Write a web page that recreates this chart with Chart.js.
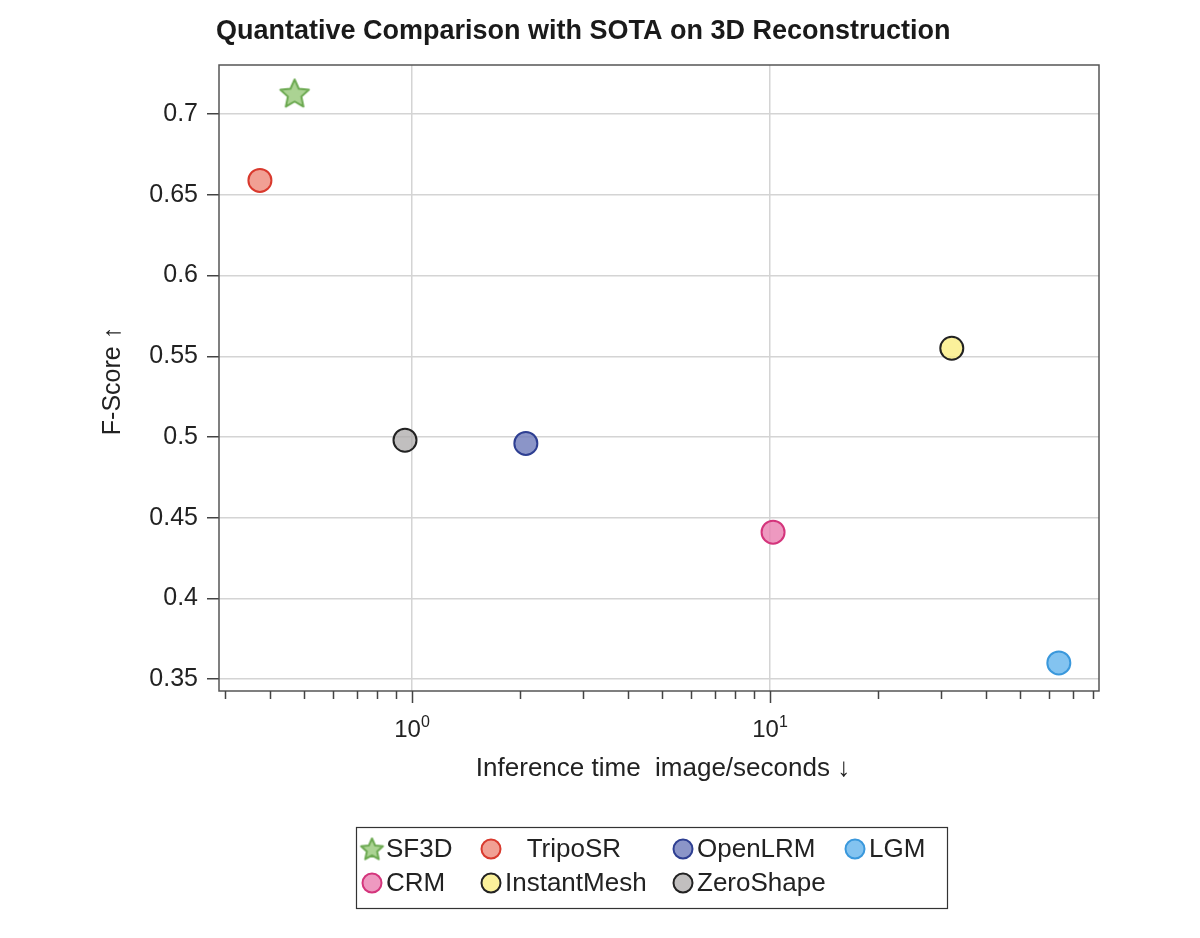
<!DOCTYPE html>
<html>
<head>
<meta charset="utf-8">
<script src="https://cdn.jsdelivr.net/npm/chart.js@4.4.1/dist/chart.umd.min.js"></script>
<style>
  html, body { margin: 0; background: #fff; }
  #wrap { width: 1200px; height: 938px; }
</style>
</head>
<body>
<div id="wrap"><canvas id="chart" aria-label="scatter chart" role="img"></canvas></div>
<script>
const methods = ['SF3D', 'TripoSR', 'OpenLRM', 'LGM', 'CRM', 'InstantMesh', 'ZeroShape'];
const inferenceTime = [0.47, 0.376, 2.08, 64.1, 10.2, 32.2, 0.956];
const fScore = [0.713, 0.659, 0.496, 0.360, 0.441, 0.555, 0.498];
const fillColors = [
  'rgba(150, 200, 120, 0.8)',
  'rgba(236, 128, 112, 0.75)',
  'rgba(110, 122, 186, 0.8)',
  'rgba(100, 180, 236, 0.8)',
  'rgba(234, 128, 176, 0.8)',
  'rgba(250, 238, 130, 0.8)',
  'rgba(172, 170, 170, 0.75)',
];
const borderColors = ['#6aa84f', '#d93a2e', '#2e3f92', '#3a98dc', '#d4357c', '#222222', '#222222'];
const yTicks = [0.35, 0.4, 0.45, 0.5, 0.55, 0.6, 0.65, 0.7];
const xMajorTicks = [1, 10];
const xMajorExp = ['0', '1'];
const xMinorTicks = [0.3, 0.4, 0.5, 0.6, 0.7, 0.8, 0.9, 2, 3, 4, 5, 6, 7, 8, 9, 20, 30, 40, 50, 60, 70, 80];

const FONT = '"Liberation Sans", Arial, Helvetica, sans-serif';

const makeStar = (r, fill, stroke) => {
  const c = document.createElement('canvas');
  const size = Math.ceil(r * 2 + 6);
  c.width = size;
  c.height = size;
  const ctx = c.getContext('2d');
  const cx = size / 2, cy = size / 2 + r * 0.08;
  ctx.beginPath();
  for (let i = 0; i < 10; i++) {
    const rad = i % 2 === 0 ? r : r * 0.47;
    const a = -Math.PI / 2 + i * Math.PI / 5;
    const px = cx + rad * Math.cos(a), py = cy + rad * Math.sin(a);
    if (i === 0) ctx.moveTo(px, py); else ctx.lineTo(px, py);
  }
  ctx.closePath();
  ctx.fillStyle = fill;
  ctx.fill();
  ctx.lineWidth = 2;
  ctx.lineJoin = 'round';
  ctx.strokeStyle = stroke;
  ctx.stroke();
  return c;
};

const starBig = makeStar(15, fillColors[0], borderColors[0]);
const starSmall = makeStar(11.5, fillColors[0], borderColors[0]);

const datasets = methods.map((m, i) => ({
  label: m,
  data: [{ x: inferenceTime[i], y: fScore[i] }],
  backgroundColor: fillColors[i],
  borderColor: borderColors[i],
  borderWidth: 2,
  pointRadius: 11.5,
  pointHoverRadius: 11.5,
  pointStyle: i === 0 ? starBig : 'circle',
}));

// legend layout: 4 columns, 2 rows
const legendCols = [372, 491, 683, 855];
const legendRows = [849, 883];
const legendText = ['SF3D', '   TripoSR', 'OpenLRM', 'LGM', 'CRM', 'InstantMesh', 'ZeroShape'];

const decorPlugin = {
  id: 'decor',
  beforeDatasetsDraw(chart) {
    const { ctx, chartArea: a, scales: { x } } = chart;
    ctx.save();
    ctx.strokeStyle = '#555';
    ctx.lineWidth = 1.5;
    ctx.strokeRect(a.left, a.top, a.right - a.left, a.bottom - a.top);

    // x tick marks
    ctx.strokeStyle = '#444';
    ctx.lineWidth = 1.5;
    ctx.beginPath();
    xMinorTicks.forEach(v => {
      const px = Math.round(x.getPixelForValue(v)) + 0.5;
      ctx.moveTo(px, a.bottom);
      ctx.lineTo(px, a.bottom + 8);
    });
    xMajorTicks.forEach(v => {
      const px = Math.round(x.getPixelForValue(v)) + 0.5;
      ctx.moveTo(px, a.bottom);
      ctx.lineTo(px, a.bottom + 12);
    });
    ctx.stroke();

    // x tick labels 10^n
    ctx.fillStyle = '#222';
    ctx.textBaseline = 'alphabetic';
    xMajorTicks.forEach((v, i) => {
      const px = x.getPixelForValue(v);
      ctx.font = '24px ' + FONT;
      const wb = ctx.measureText('10').width;
      ctx.font = '16px ' + FONT;
      const we = ctx.measureText(xMajorExp[i]).width;
      const start = px - (wb + we) / 2;
      ctx.font = '24px ' + FONT;
      ctx.textAlign = 'left';
      ctx.fillText('10', start, 737);
      ctx.font = '16px ' + FONT;
      ctx.fillText(xMajorExp[i], start + wb, 727);
    });
    ctx.restore();
  },
  afterDraw(chart) {
    const { ctx, chartArea: a } = chart;
    ctx.save();
    // title
    ctx.fillStyle = '#1a1a1a';
    ctx.font = 'bold 27px ' + FONT;
    ctx.textAlign = 'left';
    ctx.textBaseline = 'middle';
    ctx.fillText('Quantative Comparison with SOTA on 3D Reconstruction', 216, 32);

    // axis titles
    ctx.font = '26px ' + FONT;
    ctx.fillStyle = '#222';
    ctx.textAlign = 'center';
    ctx.fillText('Inference time  image/seconds \u2193', (a.left + a.right) / 2 + 4, 769);
    ctx.save();
    ctx.font = '25px ' + FONT;
    ctx.translate(113, 381);
    ctx.rotate(-Math.PI / 2);
    ctx.fillText('F-Score \u2191', 0, 0);
    ctx.restore();

    // legend box
    ctx.strokeStyle = '#333';
    ctx.lineWidth = 1.2;
    ctx.strokeRect(356.5, 827.5, 591, 81);
    ctx.font = '26px ' + FONT;
    ctx.textAlign = 'left';
    ctx.textBaseline = 'middle';
    methods.forEach((m, i) => {
      const cx = legendCols[i % 4];
      const cy = legendRows[Math.floor(i / 4)];
      if (i === 0) {
        ctx.drawImage(starSmall, cx - starSmall.width / 2, cy - starSmall.height / 2);
      } else {
        ctx.beginPath();
        ctx.arc(cx, cy, 9.5, 0, Math.PI * 2);
        ctx.fillStyle = fillColors[i];
        ctx.fill();
        ctx.lineWidth = 2;
        ctx.strokeStyle = borderColors[i];
        ctx.stroke();
      }
      ctx.fillStyle = '#222';
      ctx.fillText(legendText[i], cx + 14, cy + 1);
    });
    ctx.restore();
  },
};

new Chart(document.getElementById('chart'), {
  type: 'scatter',
  data: { datasets },
  options: {
    responsive: true,
    maintainAspectRatio: false,
    animation: false,
    layout: { padding: { top: 65, right: 101, bottom: 147, left: 0 } },
    plugins: { legend: { display: false }, tooltip: { enabled: false } },
    scales: {
      x: {
        type: 'logarithmic',
        min: 0.289,
        max: 83,
        afterBuildTicks: s => { s.ticks = xMajorTicks.map(v => ({ value: v, major: true })); },
        afterFit: s => { s.height = 100; },
        grid: { color: '#d4d4d4', lineWidth: 1.5, drawTicks: false },
        border: { display: false },
        ticks: { display: false },
      },
      y: {
        min: 0.3426,
        max: 0.7305,
        afterBuildTicks: s => { s.ticks = yTicks.map(v => ({ value: v })); },
        afterFit: s => { s.width = 219; },
        grid: { color: '#d4d4d4', lineWidth: 1.5, tickLength: 12, tickColor: '#444', tickWidth: 1.5 },
        border: { display: false },
        ticks: {
          font: { size: 25, family: FONT },
          color: '#222',
          padding: 9,
          callback: v => String(v),
        },
      },
    },
  },
  plugins: [decorPlugin],
});
</script>
</body>
</html>
